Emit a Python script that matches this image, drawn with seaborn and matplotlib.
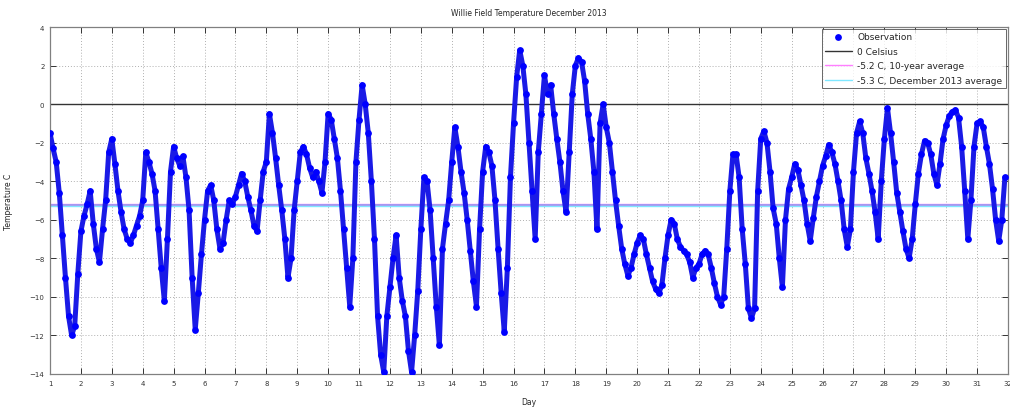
import numpy as np
import pandas as pd
import matplotlib
matplotlib.use("Agg")
import matplotlib.pyplot as plt
import seaborn as sns

# Temperature readings (deg C) every 0.1 day
day1 = [-1.5, -2.3, -3.0, -4.6, -6.8, -9.0, -11.0, -12.0, -11.5, -8.8]
day2 = [-6.6, -5.8, -5.2, -4.5, -6.2, -7.5, -8.2, -6.5, -5.0, -2.5]
day3 = [-1.8, -3.1, -4.5, -5.6, -6.5, -7.0, -7.2, -6.8, -6.3, -5.8]
day4 = [-5.0, -2.5, -3.0, -3.6, -4.5, -6.5, -8.5, -10.2, -7.0, -3.5]
day5 = [-2.2, -2.8, -3.2, -2.7, -3.8, -5.5, -9.0, -11.7, -9.8, -7.8]
day6 = [-6.0, -4.5, -4.2, -5.0, -6.5, -7.5, -7.2, -6.0, -5.0, -5.2]
day7 = [-4.8, -4.2, -3.6, -4.0, -4.8, -5.5, -6.3, -6.6, -5.0, -3.5]
day8 = [-3.0, -0.5, -1.5, -2.8, -4.2, -5.5, -7.0, -9.0, -8.0, -5.5]
day9 = [-4.0, -2.5, -2.2, -2.6, -3.3, -3.8, -3.5, -4.0, -4.6, -3.0]
day10 = [-0.5, -0.8, -1.8, -2.8, -4.5, -6.5, -8.5, -10.5, -8.0, -3.0]
day11 = [-0.8, 1.0, 0.0, -1.5, -4.0, -7.0, -11.0, -13.0, -13.9, -11.0]
day12 = [-9.5, -8.0, -6.8, -9.0, -10.2, -11.0, -12.8, -13.9, -12.0, -9.7]
day13 = [-6.5, -3.8, -4.0, -5.5, -8.0, -10.5, -12.5, -7.5, -6.2, -5.0]
day14 = [-3.0, -1.2, -2.2, -3.5, -4.6, -6.0, -7.6, -9.2, -10.5, -6.5]
day15 = [-3.5, -2.2, -2.5, -3.2, -5.0, -7.5, -9.8, -11.8, -8.5, -3.8]
day16 = [-1.0, 1.4, 2.8, 2.0, 0.5, -2.0, -4.5, -7.0, -2.5, -0.5]
day17 = [1.5, 0.5, 1.0, -0.5, -1.8, -3.0, -4.5, -5.6, -2.5, 0.5]
day18 = [2.0, 2.4, 2.2, 1.2, -0.5, -1.8, -3.5, -6.5, -1.0, 0.0]
day19 = [-1.2, -2.0, -3.5, -5.0, -6.3, -7.5, -8.3, -8.9, -8.5, -7.8]
day20 = [-7.2, -6.8, -7.0, -7.8, -8.5, -9.2, -9.6, -9.8, -9.4, -8.0]
day21 = [-6.8, -6.0, -6.2, -7.0, -7.4, -7.6, -7.8, -8.2, -9.0, -8.5]
day22 = [-8.3, -7.8, -7.6, -7.8, -8.5, -9.3, -10.0, -10.4, -10.0, -7.5]
day23 = [-4.5, -2.6, -2.6, -3.8, -6.5, -8.3, -10.6, -11.1, -10.6, -4.5]
day24 = [-1.8, -1.4, -2.0, -3.5, -5.4, -6.2, -8.0, -9.5, -6.0, -4.4]
day25 = [-3.8, -3.1, -3.4, -4.2, -5.0, -6.2, -7.1, -5.9, -4.8, -4.0]
day26 = [-3.2, -2.7, -2.1, -2.5, -3.1, -4.0, -5.0, -6.5, -7.4, -6.5]
day27 = [-3.5, -1.5, -0.9, -1.5, -2.8, -3.6, -4.5, -5.6, -7.0, -4.0]
day28 = [-1.8, -0.2, -1.5, -3.0, -4.6, -5.6, -6.6, -7.5, -8.0, -7.0]
day29 = [-5.2, -3.6, -2.6, -1.9, -2.0, -2.6, -3.6, -4.2, -3.1, -1.8]
day30 = [-1.1, -0.6, -0.4, -0.3, -0.7, -2.2, -4.5, -7.0, -5.0, -2.2]
day31 = [-1.0, -0.9, -1.2, -2.2, -3.1, -4.4, -6.0, -7.1, -6.0, -3.8]

daily = [day1, day2, day3, day4, day5, day6, day7, day8, day9, day10,
         day11, day12, day13, day14, day15, day16, day17, day18, day19, day20,
         day21, day22, day23, day24, day25, day26, day27, day28, day29, day30, day31]

zero_line = 0.0
avg_10yr = -5.2
avg_dec2013 = -5.3
x_ticks = list(range(1, 33))
y_ticks = list(range(-14, 5, 2))

rows = []
for d, vals in enumerate(daily, start=1):
    for k, v in enumerate(vals):
        rows.append((d + k / 10.0, v))
df = pd.DataFrame(rows, columns=["Day", "Temp"])

sns.set_style("white")
plt.rcParams['font.family'] = ['DejaVu Sans']

fig = plt.figure(figsize=(10.1, 4.1), dpi=100)
ax = fig.add_axes([0.0495, 0.0854, 0.9485, 0.8463])

ax.axhline(zero_line, color="#333333", lw=1.0, label="0 Celsius", zorder=2)
ax.axhline(avg_10yr, color="#ff00ff", lw=1.0, alpha=0.5,
           label="-5.2 C, 10-year average", zorder=2)
ax.axhline(avg_dec2013, color="#00d0ff", lw=1.0, alpha=0.5,
           label="-5.3 C, December 2013 average", zorder=2)
ax.axhline((avg_10yr + avg_dec2013) / 2, color="#9a9af0", lw=1.4, alpha=0.9, zorder=2)

# observation trail: connecting trail + dot markers
sns.lineplot(data=df, x="Day", y="Temp", ax=ax, color=(0.1, 0.1, 0.9),
             lw=3.6, zorder=3, legend=False, solid_capstyle="round",
             solid_joinstyle="round")
sns.scatterplot(data=df, x="Day", y="Temp", ax=ax, color=(0, 0, 1), s=24,
                linewidth=0, label="Observation", zorder=4)

ax.set_xlim(1, 32)
ax.set_ylim(-14, 4)
ax.set_xticks(x_ticks)
ax.set_yticks(y_ticks)
ax.grid(True, color="#b0b0b0", linestyle=(0, (1, 2)), linewidth=0.7)
ax.tick_params(direction="in", length=4, width=0.7, labelsize=5,
               colors="#333333", pad=4, top=True, right=True,
               bottom=True, left=True)
for s in ax.spines.values():
    s.set_color("#808080")
    s.set_linewidth(0.9)

ax.set_title("Willie Field Temperature December 2013", fontsize=5.5, pad=9)
ax.set_xlabel("Day", fontsize=5.5, labelpad=8)
ax.set_ylabel("Temperature C", fontsize=5.5, labelpad=12)

handles, labels = ax.get_legend_handles_labels()
order = [labels.index(l) for l in ["Observation", "0 Celsius",
                                   "-5.2 C, 10-year average",
                                   "-5.3 C, December 2013 average"]]
leg = ax.legend([handles[i] for i in order], [labels[i] for i in order],
                loc="upper right", fontsize=6.5, frameon=True, fancybox=False,
                edgecolor="#404040", borderaxespad=0.25, handlelength=3.0,
                labelspacing=0.6, borderpad=0.35, handletextpad=0.6)
leg.get_frame().set_linewidth(0.7)

fig.savefig("out.png", dpi=100)
